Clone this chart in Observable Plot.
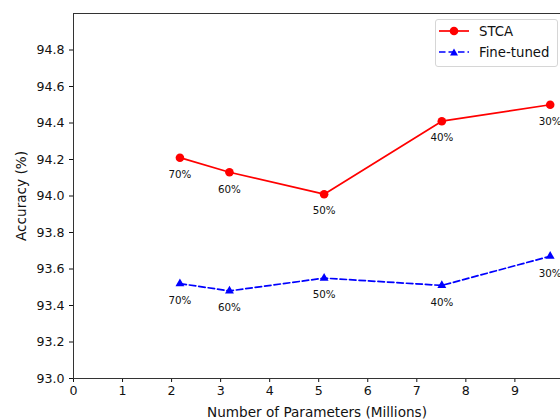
<!DOCTYPE html>
<html>
<head>
<meta charset="utf-8">
<script src="https://cdn.jsdelivr.net/npm/d3@7"></script>
<script src="https://cdn.jsdelivr.net/npm/@observablehq/plot@0.6"></script>
<style>
  body { margin: 0; background: #fff; overflow: hidden; }
  #wrap { position: relative; width: 560px; height: 420px; font-family: "DejaVu Sans", sans-serif; }
  #legend { position: absolute; left: 435px; top: 19px; width: 121px; height: 46px; border: 1px solid #d6d6d6; border-radius: 3px; background: rgba(255,255,255,0.85); font-size: 13.3px; color: #111; }
  #legend .row { position: absolute; left: 3px; height: 20px; display: flex; align-items: center; }
  #legend .row span { margin-left: 10px; }
</style>
</head>
<body>
<div id="wrap"></div>
<script>
const params = [2.17, 3.18, 5.11, 7.51, 9.72];
const pruneRates = ["70%", "60%", "50%", "40%", "30%"];
const stcaAcc = [94.21, 94.13, 94.01, 94.41, 94.50];
const fineTunedAcc = [93.52, 93.48, 93.55, 93.51, 93.67];
const yTicks = [93.0, 93.2, 93.4, 93.6, 93.8, 94.0, 94.2, 94.4, 94.6, 94.8];
const xTicks = [0, 1, 2, 3, 4, 5, 6, 7, 8, 9];

const stca = params.map((p, i) => ({x: p, y: stcaAcc[i], label: pruneRates[i]}));
const ft = params.map((p, i) => ({x: p, y: fineTunedAcc[i], label: pruneRates[i]}));

const chart = Plot.plot({
  width: 560,
  height: 420,
  marginLeft: 73,
  marginRight: 0,
  marginTop: 13,
  marginBottom: 42,
  style: {fontFamily: "DejaVu Sans, sans-serif", fontSize: "12.6px", color: "#111", background: "#fff"},
  x: {domain: [0, 9.93], ticks: xTicks, tickFormat: d => String(d), label: "Number of Parameters (Millions)", labelAnchor: "center", labelArrow: "none", tickSize: 4, tickPadding: 4, labelOffset: 38},
  y: {domain: [93, 95], ticks: yTicks, tickFormat: d => d.toFixed(1), label: "Accuracy (%)", labelAnchor: "center", labelArrow: "none", tickSize: 4, tickPadding: 5, labelOffset: 57},
  marks: [
    Plot.ruleY([95], {stroke: "#333", strokeWidth: 1}),
    Plot.ruleX([0], {stroke: "#333", strokeWidth: 1}),
    Plot.ruleY([93], {stroke: "#333", strokeWidth: 1}),
    Plot.line(stca, {x: "x", y: "y", stroke: "red", strokeWidth: 1.7}),
    Plot.dot(stca, {x: "x", y: "y", fill: "red", r: 4.3, symbol: "circle"}),
    Plot.text(stca, {x: "x", y: "y", text: "label", dy: 17, fontSize: 10.3, fill: "#111"}),
    Plot.line(ft, {x: "x", y: "y", stroke: "blue", strokeWidth: 1.7, strokeDasharray: "6.5,3"}),
    Plot.dot(ft, {x: "x", y: "y", fill: "blue", r: 3.3, symbol: "triangle"}),
    Plot.text(ft, {x: "x", y: "y", text: "label", dy: 17, fontSize: 10.3, fill: "#111"})
  ]
});
const wrap = document.getElementById("wrap");
wrap.appendChild(chart);
d3.select(chart).selectAll('[aria-label="x-axis label"], [aria-label="y-axis label"]').attr("font-size", "13.6px");

const legend = document.createElement("div");
legend.id = "legend";
legend.innerHTML = `
  <div class="row" style="top:1px"><svg width="30" height="12"><line x1="0" y1="6" x2="30" y2="6" stroke="red" stroke-width="1.7"/><circle cx="15" cy="6" r="4.3" fill="red"/></svg><span>STCA</span></div>
  <div class="row" style="top:22px"><svg width="30" height="12"><line x1="0" y1="6" x2="30" y2="6" stroke="blue" stroke-width="1.7" stroke-dasharray="6.5,3"/><path d="M15,2.5 L19,9.5 L11,9.5 Z" fill="blue"/></svg><span>Fine-tuned</span></div>`;
wrap.appendChild(legend);
</script>
</body>
</html>
